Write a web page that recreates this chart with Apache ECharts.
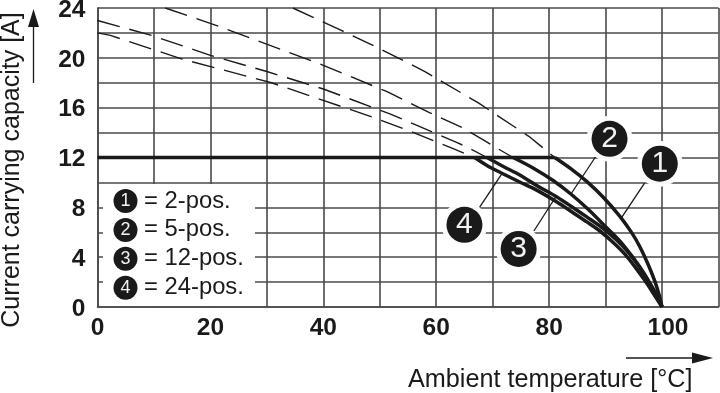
<!DOCTYPE html>
<html><head><meta charset="utf-8">
<style>html,body{margin:0;padding:0;background:#fff}#c{width:720px;height:393px}</style>
<script src="https://cdn.jsdelivr.net/npm/echarts@6/dist/echarts.min.js"></script>
</head><body><div id="c"></div>
<script>
const xTicks=[0,20,40,60,80,100];
const yTicks=[0,4,8,12,16,20,24];
const limit12=[[0,12],[81,12]];
const dash1=[[34.6,24],[43.2,22.2],[48.8,21],[58,18.9],[67.4,16.4],[76.4,13.7],[81,12]];
const dash2=[[12,24],[21.7,22.5],[27.6,21.5],[40,19.4],[51.2,17.3],[58.8,15.6],[64.6,14.4],[68.4,13.4],[70.2,12.9],[73.6,12]];
const dash3=[[0,23],[9.6,21.8],[20,20.2],[30,18.9],[40,17.5],[51.8,15.5],[57,14.5],[63.7,13.2],[65.6,12.8],[69,12]];
const dash4=[[0,22],[2.3,21.8],[15,19.9],[30.8,18],[49,15.2],[56,14],[62.8,12.75],[66.8,12]];
const solid1=[[81,12],[84,11.05],[86.6,10.1],[89.5,8.85],[92.5,7.3],[94.5,6.05],[96,4.9],[97.5,3.45],[98.7,2.1],[99.5,0.95],[100,0]];
const solid2=[[73.6,12],[77,11.2],[80.7,10.15],[83.9,9.05],[87,7.8],[90.1,6.4],[92.5,5.3],[94.8,4],[96.8,2.7],[98.4,1.4],[99.4,0.6],[100,0]];
const solid3=[[69,12],[71.8,11.3],[74.8,10.6],[78,9.7],[81.3,8.85],[84,8.05],[86.6,7.25],[89.3,6.4],[91.9,5.4],[94,4.4],[96,3.2],[97.6,2.1],[98.9,1.1],[100,0]];
const solid4=[[66.8,12],[69.2,11.3],[71.8,10.7],[74.7,10.05],[77.7,9.4],[81.3,8.45],[84,7.65],[86.6,6.85],[89,6.1],[91.3,5.2],[93.5,4.2],[95.4,3.1],[97,2.1],[98.3,1.2],[100,0]];
const badges=[[99.6,11.5,'1'],[90.7,13.5,'2'],[74.6,4.66,'3'],[65,6.6,'4']];
const leaders=[[[96.9,9.95],[92.65,7.06]],[[88.2,12.04],[83.75,8.99]],[[81.3,8.93],[77.3,6.1]],[[71.7,10.75],[67.7,8.02]]];
const legendRows=['= 2-pos.','= 5-pos.','= 12-pos.','= 24-pos.'];
const xTitle='Ambient temperature [°C]';
const yTitle='Current carrying capacity [A]';

const F='"Liberation Sans",Arial,sans-serif';
const INK='#1a1a1a';
const line=(d,w,dash,sm)=>({type:'line',data:d,symbol:'none',smooth:sm||false,silent:true,z:3,
  lineStyle:{color:INK,width:w,type:dash||'solid',cap:'butt',join:'round'}});
const series=[];
[dash1,dash2,dash3,dash4].forEach(d=>series.push(line(d,1.4,[23,10])));
series.push(line(limit12,3.5));
[solid1,solid2,solid3,solid4].forEach(d=>series.push(line(d,3.5,null,0.3)));
leaders.forEach(d=>series.push(Object.assign(line(d,1.3),{z:4})));
series.push({type:'scatter',data:badges.map(b=>[b[0],b[1]]),symbolSize:46,silent:true,z:5,
  itemStyle:{color:'#fff',opacity:0.95}});
series.push({type:'scatter',data:badges,symbolSize:36,silent:true,z:6,
  itemStyle:{color:INK,opacity:1},
  label:{show:true,position:'inside',formatter:p=>p.data[2],color:'#f2f2f2',fontFamily:F,fontSize:30}});

const legendEls=[{type:'rect',shape:{x:103,y:184,width:152,height:122},style:{fill:'#fff'},z:1}];
legendRows.forEach((t,i)=>{
  const cy=201+i*28.9;
  legendEls.push({type:'circle',shape:{cx:125.5,cy:cy,r:12},style:{fill:INK},z:2});
  legendEls.push({type:'text',x:125.5,y:cy,style:{text:String(i+1),fill:'#f2f2f2',font:'18px '+F,textAlign:'center',textVerticalAlign:'middle'},z:3});
  legendEls.push({type:'text',x:144,y:cy,style:{text:t,fill:INK,font:'23.8px '+F,textAlign:'left',textVerticalAlign:'middle'},z:3});
});
const ar=(pts,head)=>[
  {type:'polyline',shape:{points:pts},style:{stroke:INK,lineWidth:1.3,fill:'none'}},
  {type:'polygon',shape:{points:head},style:{fill:INK}}];
const chart=echarts.init(document.getElementById('c'),null,{renderer:'canvas'});
chart.setOption({
  animation:false,backgroundColor:'#fff',
  grid:{left:97.5,right:1.5,top:8,bottom:86,outerBoundsMode:'none'},
  xAxis:{type:'value',min:0,max:110,interval:10,
    axisLine:{show:true,lineStyle:{color:'#4a4a4a',width:1.6}},axisTick:{show:false},
    splitLine:{show:true,lineStyle:{color:'#4a4a4a',width:1.6}},
    axisLabel:{margin:9,color:INK,fontFamily:F,fontWeight:'bold',fontSize:24.5,hideOverlap:false,showMaxLabel:true,
      rich:{h:{fontFamily:F,fontWeight:'bold',fontSize:24.5,color:INK,padding:[0,0,0,12]}},
      formatter:v=>v===100?'{h|100}':(xTicks.includes(v)?String(v):'')}},
  yAxis:{type:'value',min:0,max:24,interval:2,
    axisLine:{show:true,lineStyle:{color:'#4a4a4a',width:1.6}},axisTick:{show:false},
    splitLine:{show:true,lineStyle:{color:'#4a4a4a',width:1.6}},
    axisLabel:{margin:12,color:INK,fontFamily:F,fontWeight:'bold',fontSize:24.5,hideOverlap:false,
      rich:{y:{fontFamily:F,fontWeight:'bold',fontSize:24.5,color:INK,padding:[4,0,0,0]}},
      formatter:v=>yTicks.includes(v)?'{y|'+v+'}':''}},
  series:series,
  graphic:{elements:[...legendEls,
    {type:'text',x:408,y:380,style:{text:xTitle,fill:INK,font:'25.2px '+F,textAlign:'left',textVerticalAlign:'middle'}},
    {type:'text',x:12,y:170,rotation:Math.PI/2,style:{text:yTitle,fill:INK,font:'25px '+F,textAlign:'center',textVerticalAlign:'middle'}},
    ...ar([[626,358],[695,358]],[[692,352.5],[713,358],[692,363.5]]),
    ...ar([[33.5,83],[33.5,25]],[[28,27],[33.5,9],[39,27]])
  ]}
});
</script></body></html>
